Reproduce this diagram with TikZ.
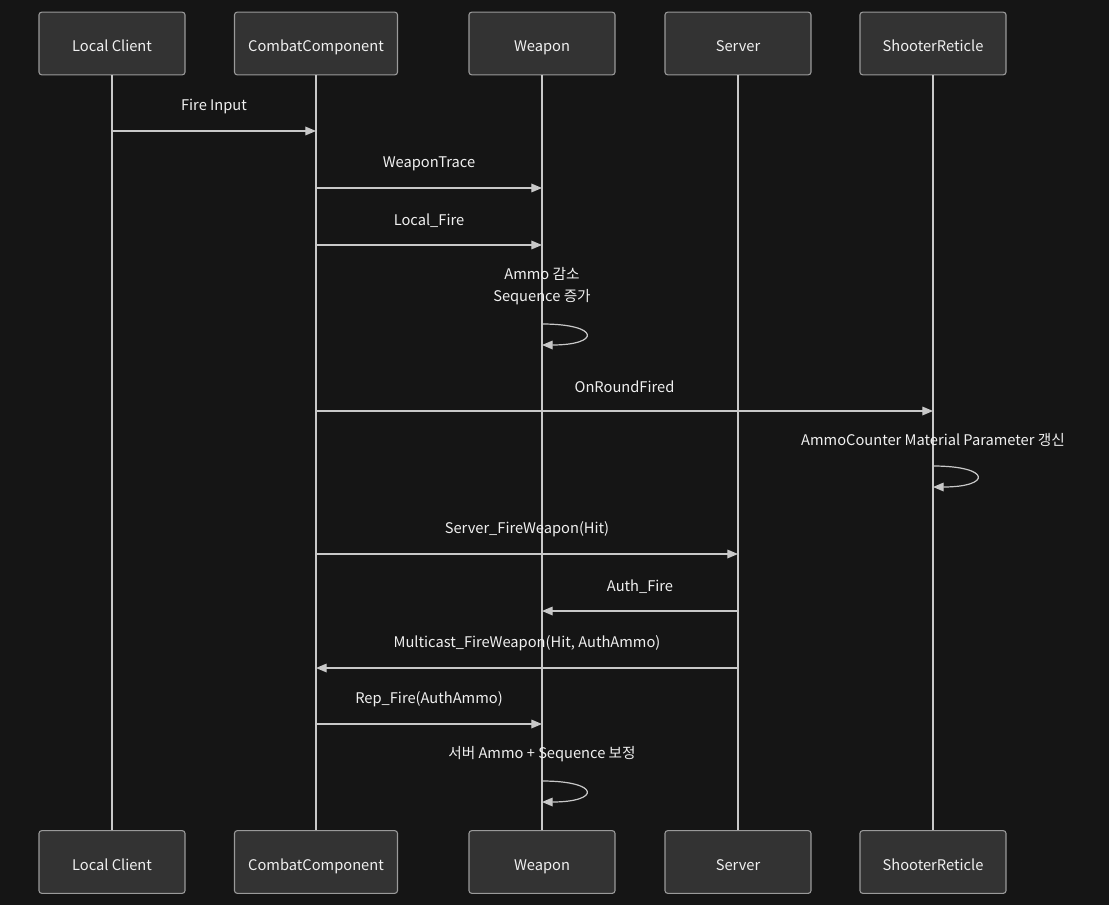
\documentclass[tikz,border=0pt]{standalone}
\usepackage{fontspec}
\setmainfont{Noto Sans CJK KR}
\usetikzlibrary{arrows.meta}

\definecolor{bgdark}{HTML}{151515}
\definecolor{boxfill}{HTML}{333333}
\definecolor{boxline}{HTML}{9A9A9A}
\definecolor{wire}{HTML}{C8C8C8}
\definecolor{ink}{HTML}{F0F0F0}

\tikzset{
  actor/.style={draw=boxline, fill=boxfill, rounded corners=2pt, line width=0.8pt,
    minimum height=47pt, text height=12pt, text depth=0pt, text=ink,
    font=\fontsize{11}{13}\selectfont},
  life/.style={draw=wire, line width=0.9pt},
  msg/.style={->, draw=wire, line width=0.9pt},
  msgtext/.style={text=ink, font=\fontsize{11}{16.5}\selectfont, align=center},
  >={Triangle[length=8pt,width=6.5pt]}
}

\begin{document}
\begin{tikzpicture}[x=0.75pt, y=-0.75pt]
  % Background
  \fill[bgdark] (0,0) rectangle (1109,905);
  \useasboundingbox (0,0) rectangle (1109,905);

  % Participants and lifelines
  \foreach \name/\x/\w/\txt in {lc/112/146/Local Client, cc/316/163/CombatComponent,
      wp/542/146/Weapon, sv/738/146/Server, sr/933/146/ShooterReticle} {
    \node[actor, minimum width=\w*0.75pt] (\name) at (\x,43.5) {\txt};
    \node[actor, minimum width=\w*0.75pt] (\name B) at (\x,862) {\txt};
    \draw[life] (\name) -- (\name B);
  }

  % Messages
  \foreach \y/\a/\b/\txt in {131/lc/cc/Fire Input, 188/cc/wp/WeaponTrace,
      245/cc/wp/Local\_Fire, 411/cc/sr/OnRoundFired,
      554/cc/sv/Server\_FireWeapon(Hit), 611/sv/wp/Auth\_Fire,
      668/sv/cc/{Multicast\_FireWeapon(Hit, AuthAmmo)}, 724/cc/wp/Rep\_Fire(AuthAmmo)} {
    \draw[msg] (\a |- 0,\y) -- node[msgtext, midway, yshift=18.5pt] {\txt} (\b |- 0,\y);
  }

  % Self calls
  \foreach \y/\who/\txt in {324/wp/{Ammo 감소\\Sequence 증가}, 466/sr/AmmoCounter Material Parameter 갱신,
      781/wp/서버 Ammo + Sequence 보정} {
    \coordinate (top) at (\who |- 0,\y);
    \coordinate (bot) at (\who |- 0,\y+21);
    \draw[msg] (top) .. controls ([xshift=44pt]top) and ([xshift=44pt]bot) .. (bot);
    \node[msgtext, anchor=south] at ([yshift=11pt]top) {\txt};
  }
\end{tikzpicture}
\end{document}
